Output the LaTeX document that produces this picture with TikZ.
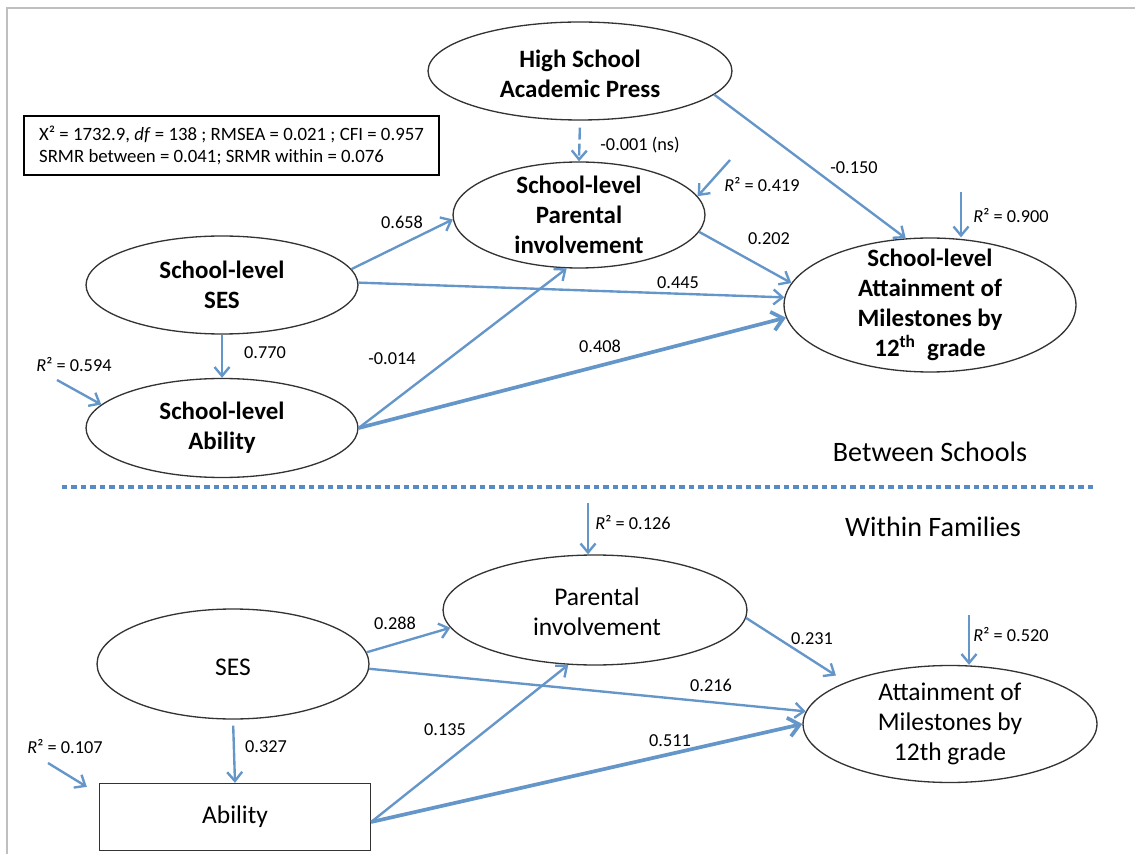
\documentclass[tikz,border=0pt]{standalone}
\usepackage{fontspec}
\setmainfont{Carlito}
\usetikzlibrary{shapes.geometric, arrows.meta, positioning}
\definecolor{pathblue}{RGB}{100,150,202}
\definecolor{splitblue}{RGB}{88,138,196}
\tikzset{
  oval/.style={ellipse, draw=black!80, line width=0.75pt, inner sep=0pt},
  box/.style={rectangle, draw=black!80, line width=0.75pt, inner sep=0pt},
  toptxt/.style={font=\fontsize{14.2}{17}\selectfont\bfseries, align=center, inner sep=0pt},
  bottxt/.style={font=\fontsize{14.5}{17}\selectfont, align=center, inner sep=0pt},
  coef/.style={font=\fontsize{10.4}{12}\selectfont, inner sep=0pt},
  pth/.style={draw=pathblue, line width=1.35pt, -{Straight Barb[length=1.8mm,width=3mm]}},
  bigpth/.style={pth, line width=2.1pt, -{Straight Barb[length=2.2mm,width=3.8mm]}},
}

\begin{document}
\begin{tikzpicture}[x=0.02cm, y=-0.02cm]
            \useasboundingbox (0,0) rectangle (1135,854);
            \draw[black!25, line width=0.8pt] (7,854) -- (7,8) -- (1135,8);

            % Between schools
            \node[oval, minimum width=6.08cm, minimum height=1.96cm] (hsap) at (580,71) {};
            \node[toptxt] (hsap-t) at (580,74) {High School\\Academic Press};
            \node[oval, minimum width=5.04cm, minimum height=2.12cm] (spi) at (579,215) {};
            \node[toptxt] (spi-t) at (spi) {School-level\\Parental\\involvement};
            \node[oval, minimum width=5.44cm, minimum height=1.96cm] (sses) at (222,285) {};
            \node[toptxt] (sses-t) at (sses) {School-level\\SES};
            \node[oval, minimum width=5.44cm, minimum height=1.98cm] (sabl) at (222,428) {};
            \node[toptxt] (sabl-t) at (sabl) {School-level\\Ability};
            \node[oval, minimum width=5.84cm, minimum height=2.68cm] (satt) at (930,305) {};
            \node[toptxt] (satt-t) at (satt) {School-level\\Attainment of\\Milestones by\\12\textsuperscript{th}~ grade};

            % Fit indices
            \node[draw=black, line width=1.6pt, minimum width=8.3cm, minimum height=1.18cm, inner sep=0pt,
                  align=left, font=\fontsize{10.7}{12.5}\selectfont] (fit) at (231.5,145.5)
                  {X² = 1732.9, \textit{df} = 138 ; RMSEA = 0.021 ; CFI = 0.957\\SRMR between = 0.041; SRMR within = 0.076};

            \draw[pth, dash pattern=on 0.24cm off 0.08cm, shorten <=0.14cm] (hsap.south) -- (spi.north);
            \draw[pth] (hsap.-10) -- (satt.110);
            \coordinate (r2spi) at (730,160);
            \draw[pth] (r2spi) -- (spi.9);
            \draw[pth] (sses.7) -- (spi.182);
            \draw[pth] (sses.1) -- (satt.177);
            \draw[pth] (spi.-8) -- (satt.171);
            \draw[pth] (sabl.east) -- (spi.257);
            \draw[bigpth] (sabl.east) -- (satt.185);
            \draw[pth] (sses.south) -- (sabl.north);
            \coordinate (r2sabl) at (57,380);
            \draw[pth] (r2sabl) -- (sabl.169);
            \coordinate (r2satt) at (961,192);
            \draw[pth] (r2satt) -- (r2satt |- satt.north);

            % Level split
            \draw[splitblue, line width=0.08cm, dash pattern=on 0.106cm off 0.084cm] (62,487) -- (1097,487);
            \node[font=\fontsize{16}{19}\selectfont] (betw) at (930,452) {Between Schools};
            \node[font=\fontsize{16}{19}\selectfont] (within) at (933,527) {Within Families};

            % Within families
            \node[oval, minimum width=6.08cm, minimum height=2.2cm] (pi) at (595,610) {};
            \node[bottxt] (pi-t) at (597,612) {Parental\\involvement};
            \node[oval, minimum width=5.44cm, minimum height=2.2cm] (ses) at (233,664) {};
            \node[bottxt] (ses-t) at (233,667) {SES};
            \node[box, minimum width=5.42cm, minimum height=1.34cm, font=\fontsize{14.5}{17}\selectfont] (abl) at (235,817) {Ability};
            \node[oval, minimum width=5.88cm, minimum height=2.34cm] (att) at (950,724) {};
            \node[bottxt] (att-t) at (att) {Attainment of\\Milestones by\\12th grade};

            \coordinate (r2pi) at (588,503);
            \draw[pth] (r2pi) -- (r2pi |- pi.north);
            \draw[pth] (ses.5) -- (pi.187);
            \draw[pth] (ses.-2) -- (att.175);
            \draw[pth, shorten <=0.12cm] (ses.south) -- (abl.north);
            \draw[pth] ([yshift=-0.1cm]abl.east) -- (pi.-116);
            \draw[bigpth] ([yshift=-0.1cm]abl.east) -- (att.west);
            \draw[pth, shorten >=0.24cm] (pi.-3) -- (att.158);
            \coordinate (r2att) at (969,615);
            \draw[pth] (r2att) -- (r2att |- att.north);
            \coordinate (r2abl) at (48,763);
            \draw[pth] (r2abl) -- ([xshift=-0.24cm,yshift=-0.08cm]abl.north west);

            % Path coefficients
            \foreach \n/\x/\y/\t in {c1/640/145/{-0.001 (ns)}, c2/762/185/{\textit{R}² = 0.419}, c3/854/168/{-0.150},
                    c4/1011/216/{\textit{R}² = 0.900}, c5/402/222/{0.658}, c6/769/239/{0.202}, c7/678/283/{0.445},
                    c8/265/353/{0.770}, c9/392/359/{-0.014}, c10/600/346/{0.408}, c11/74/365/{\textit{R}² = 0.594},
                    c12/633/523/{\textit{R}² = 0.126}, c13/395/623/{0.288}, c14/812/639/{0.231},
                    c15/1011/635/{\textit{R}² = 0.520}, c16/711/685/{0.216}, c17/445/730/{0.135},
                    c18/670/741/{0.511}, c19/266/747/{0.327}, c20/65/747/{\textit{R}² = 0.107}}
                \node[coef] (\n) at (\x,\y) {\t};
        \end{tikzpicture}
\end{document}
